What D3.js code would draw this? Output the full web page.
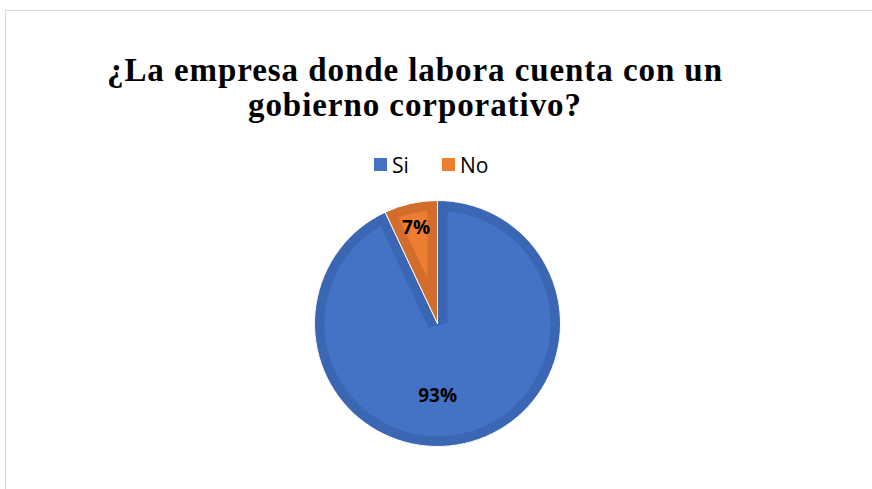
<!DOCTYPE html>
<html>
<head>
<meta charset="utf-8">
<script src="https://cdn.jsdelivr.net/npm/d3@7"></script>
<style>
  html, body { margin: 0; padding: 0; background: #fff; }
  svg { display: block; }
</style>
</head>
<body>
<svg id="chart" width="872" height="489"></svg>
<script>
// Survey answers
const categories = ["Si", "No"];
const values = [93, 7];
const labels = ["93%", "7%"];
const titleLines = ["¿La empresa donde labora cuenta con un", "gobierno corporativo?"];

const fillColors = ["#4472C4", "#ED7D31"];
const edgeColors = ["#3B66B3", "#D26D2B"];

const svg = d3.select("#chart");
const W = 872, H = 489;

// chart frame
svg.append("rect")
  .attr("x", 5.5).attr("y", 10.5)
  .attr("width", W + 20).attr("height", H + 20)
  .attr("fill", "#fff").attr("stroke", "#d9d9d9").attr("stroke-width", 1.2);

// title
const title = svg.append("g");
const titleWidths = [615, 333];
titleLines.forEach((t, i) => {
  title.append("text")
    .attr("x", 414.5).attr("y", 81 + i * 35)
    .attr("text-anchor", "middle")
    .attr("font-family", "'Liberation Serif', 'Times New Roman', serif")
    .attr("font-weight", "bold")
    .attr("font-size", 33)
    .attr("fill", "#000")
    .attr("textLength", titleWidths[i])
    .attr("lengthAdjust", "spacing")
    .text(t);
});

// legend
const legend = svg.append("g");
const legendX = [374, 442];
categories.forEach((c, i) => {
  legend.append("rect")
    .attr("x", legendX[i]).attr("y", 158)
    .attr("width", 13).attr("height", 13)
    .attr("fill", fillColors[i]);
  legend.append("text")
    .attr("x", legendX[i] + 18).attr("y", 173)
    .attr("font-family", "'Open Sans', 'Liberation Sans', sans-serif")
    .attr("font-size", 21)
    .attr("fill", "#000")
    .text(c);
});

// pie
const cx = 437.5, cy = 323.5, r = 123;
const pie = d3.pie().sort(null).value(d => d)(values);
const arc = d3.arc().innerRadius(0).outerRadius(r);
const g = svg.append("g").attr("transform", `translate(${cx},${cy})`);

const defs = svg.append("defs");
pie.forEach((p, i) => {
  defs.append("clipPath").attr("id", "clip" + i)
    .append("path").attr("d", arc(p));
});

const slices = g.selectAll("g.slice").data(pie).join("g").attr("class", "slice");
slices.append("path")
  .attr("d", arc)
  .attr("fill", (d, i) => fillColors[i]);
// darker inner rim of each slice
slices.append("path")
  .attr("d", arc)
  .attr("fill", "none")
  .attr("stroke", (d, i) => edgeColors[i])
  .attr("stroke-width", 20)
  .attr("stroke-linejoin", "miter")
  .attr("clip-path", (d, i) => `url(#clip${i})`);
slices.append("path")
  .attr("d", arc)
  .attr("fill", "none")
  .attr("stroke", "#fff")
  .attr("stroke-width", 1);

// data labels
const labelRadius = [0.6, 0.8];
const labelShift = [-16, 0];
slices.append("text")
  .attr("transform", (d, i) => {
    const la = d3.arc().innerRadius(0).outerRadius(r * labelRadius[i] * 2);
    const [x, y] = la.centroid(d);
    return `translate(${x + labelShift[i]},${y})`;
  })
  .attr("text-anchor", "middle")
  .attr("dy", "0.35em")
  .attr("font-family", "'Open Sans', 'Liberation Sans', sans-serif")
  .attr("font-weight", "bold")
  .attr("font-size", 19)
  .attr("fill", "#000")
  .text((d, i) => labels[i]);
</script>
</body>
</html>
